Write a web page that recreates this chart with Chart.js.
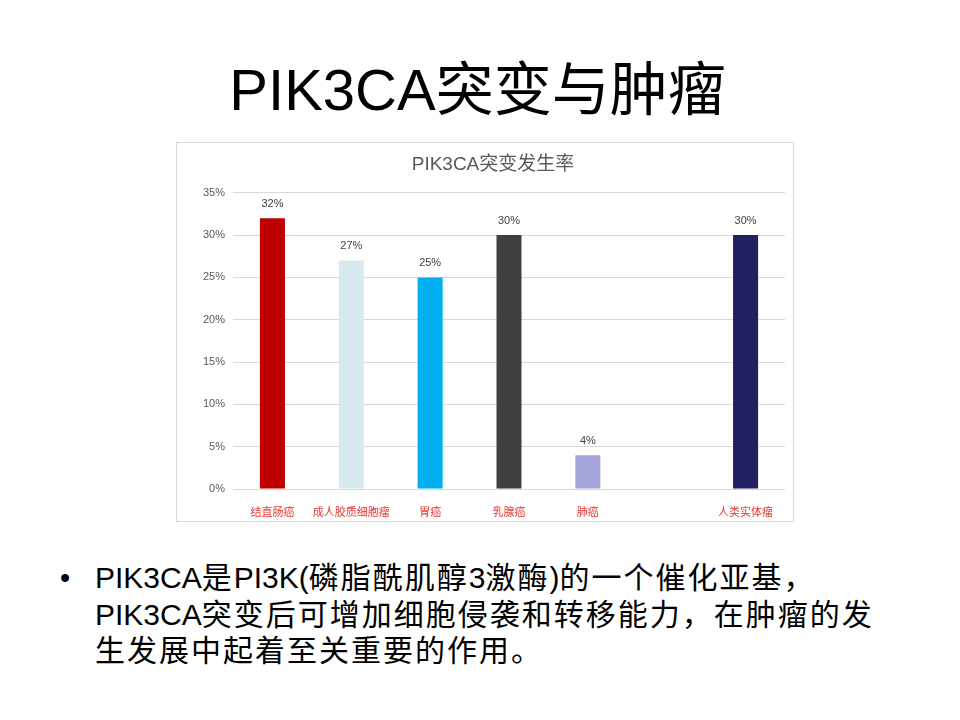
<!DOCTYPE html>
<html>
<head>
<meta charset="utf-8">
<script src="https://cdn.jsdelivr.net/npm/chart.js@4"></script>
<style>
  body { margin: 0; width: 960px; height: 720px; background: #fff; position: relative; overflow: hidden;
         font-family: "Liberation Sans", "Noto Sans CJK SC", sans-serif; }
  #title { position: absolute; left: 0; top: 52px; width: 955px; text-align: center;
           font-size: 58px; line-height: 76px; color: #000; }
  #box { position: absolute; left: 176px; top: 142px; width: 616px; height: 378px; border: 1px solid #d9d9d9; }
  #bullet { position: absolute; left: 60px; top: 560px; font-size: 29px; line-height: 36px; color: #000; }
  #text { position: absolute; left: 95px; top: 560px; width: 800px; font-size: 30px; line-height: 36.5px;
          color: #000; letter-spacing: 2px; white-space: nowrap; }
  #text .en { letter-spacing: 0; }
</style>
</head>
<body>
<div id="title">PIK3CA突变与肿瘤</div>
<div id="box"><canvas id="chart"></canvas></div>
<div id="bullet">•</div>
<div id="text">
  <div><span class="en">PIK3CA</span>是<span class="en">PI3K(</span>磷脂酰肌醇<span class="en">3</span>激酶<span class="en">)</span>的一个催化亚基，</div>
  <div><span class="en">PIK3CA</span>突变后可增加细胞侵袭和转移能力，在肿瘤的发</div>
  <div>生发展中起着至关重要的作用。</div>
</div>
<script>
// --- Данные ---
const categories = ['结直肠癌', '成人胶质细胞瘤', '胃癌', '乳腺癌', '肺癌', '', '人类实体瘤'];
const rates = [32, 27, 25, 30, 4, null, 30];
const barColors = ['#c00000', '#d6eaef', '#00b0f0', '#404040', '#a5a5dc', '#ffffff', '#212161'];
const yMax = 35;
const yStep = 5;

const FONT = '"Liberation Sans", "Noto Sans CJK SC", sans-serif';

// --- Подписи над столбцами ---
const valueLabels = {
  id: 'valueLabels',
  afterDatasetsDraw(chart) {
    const c = chart.ctx;
    const meta = chart.getDatasetMeta(0);
    c.save();
    c.font = '11px ' + FONT;
    c.fillStyle = '#404040';
    c.textAlign = 'center';
    c.textBaseline = 'bottom';
    meta.data.forEach((bar, i) => {
      if (rates[i] == null) return;
      c.fillText(rates[i] + '%', bar.x, bar.y - 9);
    });
    c.restore();
  }
};

const box = document.getElementById('box');
const canvas = document.getElementById('chart');
canvas.style.width = box.clientWidth + 'px';
canvas.style.height = box.clientHeight + 'px';

new Chart(canvas.getContext('2d'), {
  type: 'bar',
  data: {
    labels: categories,
    datasets: [{
      data: rates,
      backgroundColor: barColors,
      barPercentage: 0.317,
      categoryPercentage: 1
    }]
  },
  options: {
    responsive: true,
    maintainAspectRatio: false,
    animation: false,
    layout: { padding: { left: 24, right: 8, top: 0, bottom: 0 } },
    plugins: {
      legend: { display: false },
      tooltip: { enabled: false },
      title: {
        display: true,
        text: 'PIK3CA突变发生率',
        color: '#595959',
        font: { family: FONT, size: 19, weight: 'normal' },
        padding: { top: 10, bottom: 17 }
      }
    },
    scales: {
      x: {
        grid: { display: false },
        border: { display: false },
        ticks: {
          color: '#e53935',
          font: { family: '"Noto Sans CJK SC", sans-serif', size: 11 },
          padding: 8,
          maxRotation: 0,
          autoSkip: false
        },
        afterFit(scale) { scale.height = 32; }
      },
      y: {
        min: 0,
        max: yMax,
        grid: { color: '#d9d9d9', drawTicks: false },
        border: { display: false },
        ticks: {
          stepSize: yStep,
          color: '#595959',
          font: { family: FONT, size: 11 },
          padding: 8,
          callback: v => v + '%'
        },
        afterFit(scale) { scale.width = 32; }
      }
    }
  },
  plugins: [valueLabels]
});
</script>
</body>
</html>
